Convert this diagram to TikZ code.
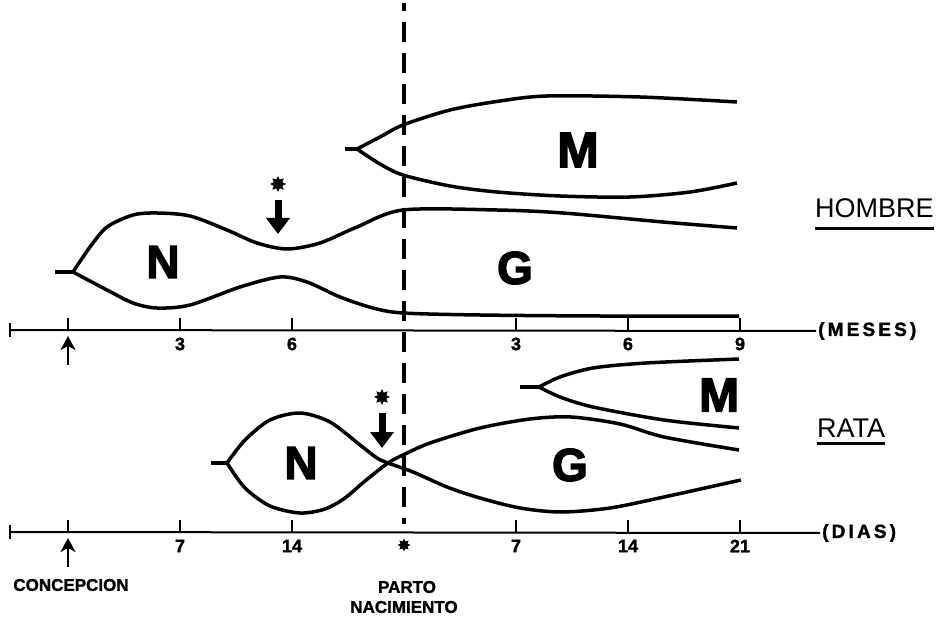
\documentclass[tikz,border=0pt]{standalone}
\usepackage{fontspec}
\setmainfont{Liberation Sans}
\newfontfamily\heavyfont{Liberation Sans}[BoldFeatures={FakeBold=3}]
\newfontfamily\labelfont{Liberation Sans}[BoldFeatures={FakeBold=1.5}]
\usetikzlibrary{arrows.meta,shapes.geometric}
\tikzset{line cap=round,
  every node/.style={inner sep=0pt},
  curve/.style={draw=black,line width=3.5pt,line join=round},
  axisline/.style={draw=black,line width=2pt},
  tickmark/.style={draw=black,line width=2pt},
  birthline/.style={draw=black,line width=3.5pt,line cap=butt,dash pattern=on 20pt off 11pt,dash phase=12pt},
  bigletter/.style={font=\fontsize{46}{46}\heavyfont\bfseries},
  ticklabel/.style={font=\fontsize{18}{18}\labelfont\bfseries},
  unitlabel/.style={font=\fontsize{19}{19}\labelfont\bfseries,anchor=west},
  species/.style={font=\fontsize{27}{27}\selectfont,anchor=base west},
  uline/.style={draw=black,line width=3pt},
  note/.style={font=\fontsize{17}{17}\labelfont\bfseries},
  asterisk/.style={star,star points=8,star point ratio=1.7,fill=black,minimum size=16pt},
  blockarrow/.style={draw=black,line width=7pt,line cap=butt,-{Triangle[length=16pt,width=23pt]},shorten <=8pt},
  uparrow/.style={draw=black,line width=2.5pt,-{Stealth[length=14pt,width=15pt,inset=4pt]}}}
\begin{document}
\begin{tikzpicture}[x=1pt,y=-1pt]
\useasboundingbox (0,0) rectangle (940,620);
% parto / nacimiento
\coordinate (birthTop) at (404,3); \coordinate (birthBot) at (404,524);
\draw[birthline] (birthTop) -- (birthBot);
% hombre: N, G, M
\draw[curve] (55,272) -- (73,272);
\draw[curve] plot[smooth] coordinates {(73,272) (90,247) (107,227) (133,215) (157,213) (190,216) (227,230) (257,243) (287,249) (320,243) (357,227) (403,210) (497,210) (563,213) (663,222) (737,228)};
\draw[curve] plot[smooth] coordinates {(73,272) (107,290) (133,303) (157,308) (190,305) (240,287) (280,277) (307,282) (340,297) (373,308) (403,313) (480,315) (600,316) (739,316)};
\draw[curve] (345,149) -- (357,149);
\draw[curve] plot[smooth] coordinates {(357,149) (380,137) (403,125) (450,110) (500,101) (547,96) (640,97) (737,102)};
\draw[curve] plot[smooth] coordinates {(357,149) (380,164) (403,175) (450,186) (497,192) (560,196) (630,197) (690,192) (737,183)};
\node[bigletter] (nTop) at (163,262) {N};
\node[bigletter] (gTop) at (515,268) {G};
\node[bigletter,font=\fontsize{50}{50}\heavyfont\bfseries] (mTop) at (578,150) {M};
\node[asterisk] (astTop) at (278,184) {};
\coordinate (tipTop) at (278,234);
\draw[blockarrow] (astTop) -- (tipTop);
\node[species] (hombre) at (815,218) {HOMBRE};
\draw[uline] ([yshift=-10pt]hombre.south west) -- ([yshift=-10pt]hombre.south east);
% rata: N, G, M
\draw[curve] (211,463) -- (227,463);
\draw[curve] plot[smooth] coordinates {(227,463) (245,440) (270,420) (300,413) (330,422) (360,445) (377,458) (388,463) (413,472) (447,487) (480,498) (520,508) (561,512) (610,508) (664,497) (741,480)};
\draw[curve] plot[smooth] coordinates {(227,463) (245,488) (270,506) (300,513) (325,509) (345,498) (365,481) (388,463) (403,455) (430,443) (480,428) (530,419) (571,417) (620,424) (664,437) (739,450)};
\draw[curve] (520,387) -- (539,387);
\draw[curve] plot[smooth] coordinates {(539,387) (560,377) (593,368) (646,363) (739,359)};
\draw[curve] plot[smooth] coordinates {(539,387) (560,397) (593,407) (664,420) (739,428)};
\node[bigletter] (nBot) at (301,463) {N};
\node[bigletter] (gBot) at (570,465) {G};
\node[bigletter,font=\fontsize{48}{48}\heavyfont\bfseries] (mBot) at (719,395) {M};
\node[asterisk] (astBot) at (382,397) {};
\coordinate (tipBot) at (382,448);
\draw[blockarrow] (astBot) -- (tipBot);
\node[species] (rata) at (817,437) {RATA};
\draw[uline] ([yshift=-6pt]rata.south west) -- ([yshift=-6pt]rata.south east);
% eje meses
\coordinate (mesesL) at (10,330);
\node[unitlabel] (meses) at (818,331) {(\,M\,E\,S\,E\,S\,)};
\draw[axisline] (mesesL) -- ([xshift=-2pt]meses.west);
\draw[tickmark] (10,323) -- (10,337);
\draw[tickmark] (68,318) -- (68,330);
\foreach \x/\lab in {180/3,292/6,516/3,628/6,740/9}{\draw[tickmark] (\x,318) -- (\x,330); \node[ticklabel] (mes\x) at (\x,344) {\lab};}
\coordinate (concTopA) at (68,365); \coordinate (concTopB) at (68,336);
\draw[uparrow] (concTopA) -- (concTopB);
% eje dias
\coordinate (diasL) at (10,532);
\node[unitlabel] (dias) at (822,533) {(\,D\,I\,A\,S\,)};
\draw[axisline] (diasL) -- ([xshift=-2pt]dias.west);
\draw[tickmark] (10,525) -- (10,539);
\draw[tickmark] (68,520) -- (68,532);
\foreach \x/\lab in {180/7,292/14,516/7,628/14,740/21}{\draw[tickmark] (\x,520) -- (\x,532); \node[ticklabel] (dia\x) at (\x,546) {\lab};}
\node[asterisk,minimum size=13pt] (partoMark) at (404,545) {};
\coordinate (concBotA) at (68,567); \coordinate (concBotB) at (68,538);
\draw[uparrow] (concBotA) -- (concBotB);
\node[note] (concep) at (71,585) {CONCEPCION};
\node[note] (parto) at (407,587) {PARTO};
\node[note] (nacim) at (404,607) {NACIMIENTO};
\end{tikzpicture}
\end{document}
